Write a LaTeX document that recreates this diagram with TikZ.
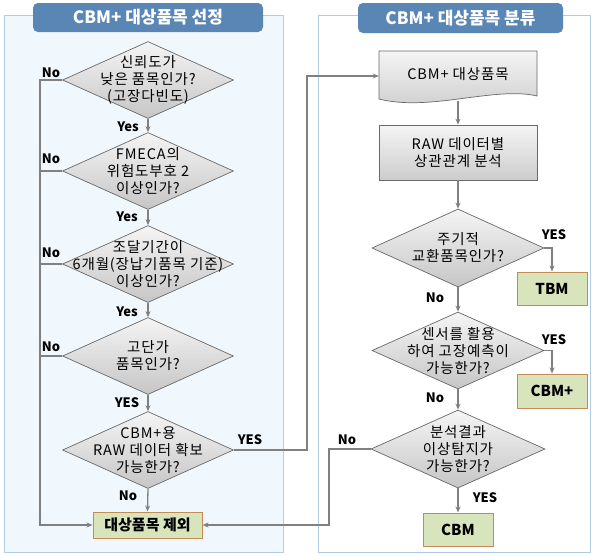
\documentclass[tikz,border=0pt]{standalone}
\usepackage{fontspec}
\setmainfont{Noto Sans CJK KR}
\usetikzlibrary{shapes.geometric,arrows.meta}
\definecolor{hdrc}{RGB}{90,134,181}
\definecolor{panelbd}{RGB}{178,204,230}
\definecolor{panelfill}{RGB}{241,248,253}
\definecolor{grnfill}{RGB}{216,228,188}
\definecolor{grnbd}{RGB}{196,140,84}
\definecolor{connc}{RGB}{128,128,128}
\definecolor{shapebd}{RGB}{105,105,105}
\newcommand\dfont{\fontsize{14.5}{17}\selectfont\addfontfeature{LetterSpace=6}}
\begin{document}
\begin{tikzpicture}[x=1pt,y=-1pt,
 dia/.style={diamond, draw=shapebd, line width=0.7pt, top color=gray!8, bottom color=gray!45, minimum width=171pt, minimum height=77pt, inner sep=0pt},
 dtxt/.style={font=\dfont, align=center, inner sep=0pt},
 rbox/.style={draw=shapebd, line width=0.7pt, top color=gray!8, bottom color=gray!40, minimum width=158pt, minimum height=55pt, font=\dfont, align=center},
 gbox/.style={draw=grnbd, fill=grnfill, line width=1pt, minimum width=70pt, minimum height=33pt, font=\bfseries\fontsize{15}{17}\selectfont},
 lab/.style={font=\bfseries\fontsize{13}{15}\selectfont, inner sep=0pt},
 conn/.style={draw=connc, line width=1.3pt},
 arr/.style={conn, -{Stealth[length=6pt,width=5pt]}},
 hdr/.style={rounded corners=5pt, fill=hdrc, text=white, font=\bfseries\fontsize{17}{19}\selectfont}
]
\useasboundingbox (0,0) rectangle (594,555);
% panels
\path[draw=panelbd, fill=panelfill, line width=1pt] (4,15) rectangle (283,552);
\path[draw=panelbd, fill=white, line width=1pt] (318,15) rectangle (590,552);
\node[hdr, minimum width=230pt, minimum height=29pt] (h1) at (148,17.5) {CBM+ 대상품목 선정};
\node[hdr, minimum width=205pt, minimum height=30pt] (h2) at (460.5,18) {CBM+ 대상품목 분류};

% left column
\node[dia] (d1) at (148,80) {};
\node[dtxt] at (d1) {신뢰도가\\낮은 품목인가?\\(고장다빈도)};
\node[dia] (d2) at (148,171) {};
\node[dtxt] at (d2) {FMECA의\\위험도부호 2\\이상인가?};
\node[dia] (d3) at (148,264) {};
\node[dtxt] at (d3) {조달기간이\\6개월(장납기품목 기준)\\이상인가?};
\node[dia] (d4) at (148,356) {};
\node[dtxt] at (d4) {고단가\\품목인가?};
\node[dia] (d5) at (148,450) {};
\node[dtxt] at (d5) {CBM+용\\RAW 데이터 확보\\가능한가?};
\node[gbox, minimum width=109pt, minimum height=26pt] (ex) at (147.5,525) {대상품목 제외};

\draw[arr] (d1.south) -- (d2.north);
\draw[arr] (d2.south) -- (d3.north);
\draw[arr] (d3.south) -- (d4.north);
\draw[arr] (d4.south) -- (d5.north);
\draw[arr] (d5.south) -- (ex.north);
\node[lab] at (128,127) {Yes};
\node[lab] at (127,217) {Yes};
\node[lab] at (127,312) {Yes};
\node[lab] at (127,403) {YES};
\node[lab] at (128,496) {No};

\coordinate (L1) at (40,80);
\draw[arr] (d1.west) -- (L1) -- (L1 |- ex.west) -- (ex.west);
\draw[conn] (d2.west) -- (d2.west -| L1);
\draw[conn] (d3.west) -- (d3.west -| L1);
\draw[conn] (d4.west) -- (d4.west -| L1);
\node[lab] at (51,73) {No};
\node[lab] at (51,159) {No};
\node[lab] at (51,253) {No};
\node[lab] at (51,347) {No};

% right column
\path[draw=shapebd, line width=0.7pt, top color=gray!8, bottom color=gray!40]
  (379,51) -- (537,51) -- (537,96) .. controls (495,86) and (430,112) .. (379,99) -- cycle;
\node[minimum width=158pt, minimum height=50pt, inner sep=0pt] (doc) at (458,76) {};
\node[dtxt] at (458,74) {CBM+ 대상품목};
\node[rbox] (raw) at (458,152.5) {RAW 데이터별\\상관관계 분석};
\node[dia, minimum width=172pt, minimum height=78pt] (d6) at (458,248) {};
\node[dtxt] at (d6) {주기적\\교환품목인가?};
\node[dia, minimum width=172pt, minimum height=77pt] (d7) at (458,350.5) {};
\node[dtxt] at (d7) {센서를 활용\\하여 고장예측이\\가능한가?};
\node[dia, minimum width=174pt, minimum height=78pt] (d8) at (458,449) {};
\node[dtxt] at (d8) {분석결과\\이상탐지가\\가능한가?};
\node[gbox] (tbm) at (552,288.5) {TBM};
\node[gbox, minimum height=34pt] (cbmp) at (552,391) {CBM+};
\node[gbox] (cbm) at (458,529.5) {CBM};

\draw[arr] (doc.south) -- (raw.north);
\draw[arr] (raw.south) -- (d6.north);
\draw[arr] (d6.south) -- (d7.north);
\draw[arr] (d7.south) -- (d8.north);
\draw[arr] (d8.south) -- (cbm.north);
\draw[arr] (d6.east) -| (tbm.north);
\draw[arr] (d7.east) -| (cbmp.north);
\node[lab] at (554,235) {YES};
\node[lab] at (554,340) {YES};
\node[lab] at (435,298) {No};
\node[lab] at (435,398) {No};
\node[lab] at (485,498) {YES};
\node[lab] at (347,440) {No};
\node[lab] at (250,440) {YES};

\coordinate (R1) at (307,76);
\draw[arr] (d5.east) -| (R1) -- (doc.west);
\coordinate (R2) at (329,449);
\draw[arr] (d8.west) -- (R2) |- (ex.east);
\end{tikzpicture}
\end{document}
